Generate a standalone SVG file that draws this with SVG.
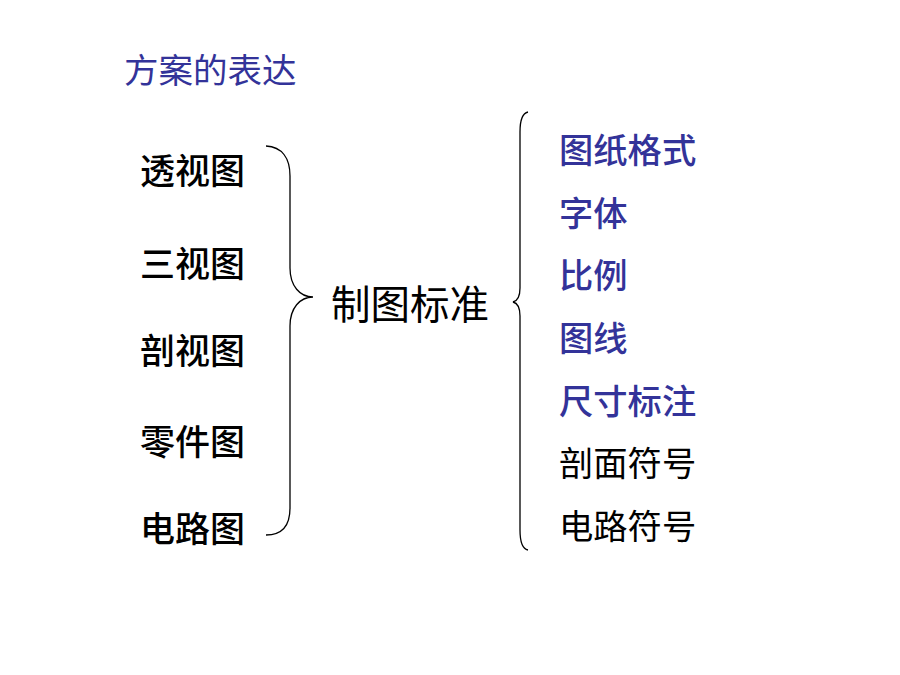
<svg xmlns="http://www.w3.org/2000/svg" width="900" height="675" viewBox="0 0 900 675">
<style>
text{font-family:"Noto Sans CJK SC","Noto Sans CJK JP",sans-serif}
.title{font-size:34.5px;fill:#333399}
.left{font-size:35px;fill:#000;font-weight:500}
.center{font-size:39.5px;fill:#000}
.blue{font-size:34.3px;fill:#333399;font-weight:500}
.black{font-size:34.3px;fill:#000}
.brace{fill:none;stroke:#000;stroke-width:1.3}
</style>
<rect width="900" height="675" fill="#fff"/>
<g id="title"><text class="title" x="124" y="83">方案的表达</text></g>
<g id="left-items">
<text class="left" x="140" y="184">透视图</text>
<text class="left" x="140" y="277">三视图</text>
<text class="left" x="140" y="364">剖视图</text>
<text class="left" x="140" y="455">零件图</text>
<text class="left" x="140" y="542">电路图</text>
</g>
<g id="center"><text class="center" x="331" y="319">制图标准</text></g>
<g id="right-items">
<text class="blue" x="559" y="163">图纸格式</text>
<text class="blue" x="559" y="226">字体</text>
<text class="blue" x="559" y="288">比例</text>
<text class="blue" x="559" y="351">图线</text>
<text class="blue" x="559" y="414">尺寸标注</text>
<text class="black" x="559" y="476">剖面符号</text>
<text class="black" x="559" y="539">电路符号</text>
</g>
<g id="connectors">
<path class="brace" d="M266,146 C282,147 290,158 290,176 L290,268 C290,286 300,297 313,297 C300,297 290,308 290,326 L290,508 C290,526 282,535 266,535"/>
<path class="brace" d="M528,112 C523,113 520,120 520,132 L520,288 C520,297 517,301 513,302 C517,303 520,307 520,316 L520,530 C520,542 523,549 528,550"/>
</g>
</svg>
